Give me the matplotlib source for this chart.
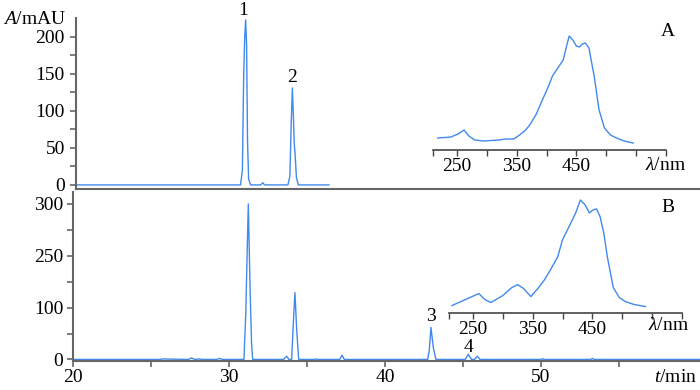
import numpy as np
import matplotlib
matplotlib.use("Agg")
import matplotlib.pyplot as plt
from matplotlib.ticker import FixedLocator, NullLocator

plt.rcParams['font.family'] = ['Liberation Serif', 'DejaVu Serif']
plt.rcParams['mathtext.fontset'] = 'custom'
plt.rcParams['mathtext.rm'] = 'Liberation Serif'
plt.rcParams['mathtext.it'] = 'Liberation Serif:italic'

# chromatogram A (standard), t / min vs A / mAU
ta = [20.0, 30.60, 30.72, 30.80, 30.87, 30.93, 30.99, 31.05, 31.12, 31.25,
      31.90, 32.03, 32.15, 33.65, 33.78, 33.86, 33.94, 34.00, 34.06, 34.12,
      34.20, 34.32, 36.30]
aa = [0, 0, 20, 145, 200, 223, 190, 60, 8, 0,
      0, 3, 0, 0, 12, 80, 131, 95, 56, 40,
      10, 0, 0]

# chromatogram B (sample)
tb = [20.0, 25.6, 25.7, 27.4, 27.6, 27.8, 28.1, 28.3, 29.2, 29.4, 29.6,
      30.96, 31.08, 31.13, 31.24, 31.35, 31.45, 31.52, 33.5, 33.7, 33.85,
      34.02, 34.12, 34.23, 34.34, 34.47, 35.5, 35.6, 35.7, 37.1, 37.25, 37.4,
      42.74, 42.85, 42.95, 43.1, 43.27, 45.15, 45.34, 45.55, 45.75, 45.92,
      46.1, 50.0, 50.1, 50.2, 53.2, 53.3, 53.4, 60.2]
ab = [0, 0, 1, 0, 3, 0, 1, 0, 0, 2, 0,
      0, 90, 160, 300, 140, 30, 0, 0, 6, 0,
      0, 67, 129, 58, 0, 0, 1, 0, 0, 8, 0,
      0, 20, 62, 23, 0, 0, 10, 0, 0, 6,
      0, 0, 1.5, 0, 0, 2, 0, 0]

# UV spectra, wavelength / nm vs relative absorbance
wa = [218, 240, 252, 262, 270, 280, 295, 320, 332, 345, 355, 365, 372, 383,
      393, 402, 410, 420, 428, 434, 438, 444, 450, 455, 460, 465, 471, 480,
      488, 497, 507, 517, 530, 545]
sa = [12, 13, 16, 20, 14, 10, 9, 10, 11, 11, 15, 20, 25, 36,
      50, 62, 74, 83, 90, 105, 114, 110, 104, 103, 106, 107, 102, 73,
      40, 22, 15, 12, 9, 7]
wb = [215, 230, 245, 260, 270, 280, 300, 315, 325, 335, 347, 360, 370, 380,
      392, 400, 414, 422, 430, 438, 445, 451, 457, 463, 469, 475, 485, 495,
      505, 520, 539]
sb = [7, 11, 15, 19, 13, 10, 17, 25, 28, 24, 16, 25, 33, 43,
      56, 73, 90, 100, 113, 108, 100, 103, 104, 96, 80, 56, 25, 15,
      11, 8, 6]

blue = '#4189ec'
grey = '#666666'
fs = 14

fig = plt.figure(figsize=(7, 3.9), dpi=100)

def style(ax):
    for s in ['top', 'right']:
        ax.spines[s].set_visible(False)
    for s in ['left', 'bottom']:
        ax.spines[s].set_color(grey)
        ax.spines[s].set_linewidth(1.5)
    ax.tick_params(which='both', direction='out', color=grey, width=1.2,
                   length=4, labelsize=fs)

# top panel
ax1 = fig.add_axes([76/700, 1-189/390, 624/700, 171/390])
ax1.plot(ta, aa, color=blue, lw=1.0)
ax1.set_xlim(20, 60.2)
ax1.set_ylim(-5.5, 225.5)
style(ax1)
ax1.set_yticks([0, 50, 100, 150, 200])
ax1.yaxis.set_minor_locator(FixedLocator([25, 75, 125, 175]))
ax1.tick_params(axis='y', pad=4)
ax1.xaxis.set_major_locator(NullLocator())
ax1.patch.set_alpha(0)

# bottom panel
ax2 = fig.add_axes([73/700, 1-361/390, 627/700, 169/390])
ax2.plot(tb, ab, color=blue, lw=1.0)
ax2.set_xlim(20, 60.2)
ax2.set_ylim(-3, 323)
style(ax2)
ax2.set_yticks([0, 100, 200, 300])
ax2.set_yticklabels(['0', '100', '250', '300'])
ax2.yaxis.set_minor_locator(FixedLocator([50, 150, 250]))
ax2.set_xticks([20, 30, 40, 50])
ax2.xaxis.set_minor_locator(FixedLocator([25, 35, 45, 55]))
ax2.tick_params(axis='y', pad=3)
ax2.tick_params(axis='x', pad=2)
ax2.patch.set_alpha(0)

# peak labels
ax1.text(30.80, 224, '1', fontsize=fs, ha='center', va='bottom')
ax1.text(33.94, 133, '2', fontsize=fs, ha='center', va='bottom')
ax2.text(42.95, 66, '3', fontsize=fs, ha='center', va='bottom')
ax2.text(45.34, 7, '4', fontsize=fs, ha='center', va='bottom')

# insets
def inset(rect, w, s, ytop):
    ax = fig.add_axes(rect)
    ax.plot(w, s, color=blue, lw=1.0)
    ax.set_xlim(210, 600)
    ax.set_ylim(0, ytop)
    for sp in ['top', 'right', 'left']:
        ax.spines[sp].set_visible(False)
    ax.spines['bottom'].set_color('#444444')
    ax.spines['bottom'].set_linewidth(1.2)
    ax.set_yticks([])
    ticks = [210, 250, 300, 350, 400, 450, 500, 550, 600]
    labels = ['', '250', '', '350', '', '450', '', '', '']
    ax.set_xticks(ticks)
    ax.set_xticklabels(labels)
    ax.tick_params(axis='x', direction='out', color='#444444', width=1,
                   length=4, labelsize=fs, pad=2)
    ax.patch.set_alpha(0)
    return ax

inset([433/700, 1-150/390, 233/700, 117/390], wa, sa, 117)
inset([449/700, 1-312.5/390, 233/700, 115.5/390], wb, sb, 116)

# axis titles and panel letters
fig.text(3/700, 1-20/390, r'$\it{A}$/mAU', fontsize=fs, ha='left', va='center')
fig.text(697/700, 1-378/390, r'$\it{t}$/min', fontsize=fs, ha='right', va='center')
fig.text(645/700, 1-165/390, r'$\lambda$/nm', fontsize=fs, ha='left', va='center')
fig.text(648/700, 1-326/390, r'$\lambda$/nm', fontsize=fs, ha='left', va='center')
fig.text(668/700, 1-32/390, 'A', fontsize=fs, ha='center', va='center')
fig.text(668/700, 1-208/390, 'B', fontsize=fs, ha='center', va='center')

fig.savefig('out.png', dpi=100)
